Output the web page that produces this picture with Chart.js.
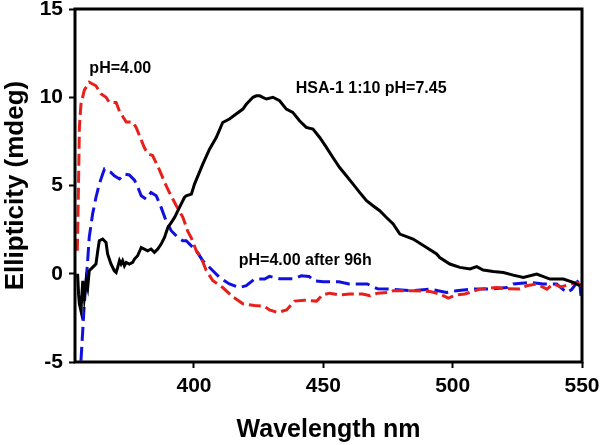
<!DOCTYPE html>
<html lang="en">
<head>
<meta charset="UTF-8">
<title>Ellipticity vs wavelength</title>
<script src="https://cdn.jsdelivr.net/npm/chart.js"></script>
<style>
  html, body { margin: 0; padding: 0; background: #fff; }
  #wrap { width: 600px; height: 445px; }
</style>
</head>
<body>
<div id="wrap"><canvas id="cdChart" width="600" height="445"></canvas></div>
<script>
// tick labels
const xTicks = [400, 450, 500, 550];
const yTicks = [-5, 0, 5, 10, 15];

// HSA-1 1:10 pH=7.45 (black, solid)
const blackWl = [355.0, 355.4, 355.7, 356.3, 357.0, 357.6, 358.3, 358.9, 359.5, 360.8, 362.1, 362.8, 363.4, 364.7, 366.0, 366.6, 367.9, 369.2, 369.9, 370.5, 371.2, 371.8, 372.4, 373.1, 373.8, 375.0, 376.3, 377.0, 378.2, 379.6, 380.8, 382.1, 383.4, 384.7, 386.0, 387.3, 388.6, 389.9, 391.2, 392.5, 394.4, 396.3, 397.0, 399.0, 400.2, 403.4, 406.0, 408.6, 411.1, 413.7, 416.3, 418.9, 420.2, 421.5, 422.8, 424.1, 425.4, 426.6, 428.0, 430.5, 433.1, 435.7, 438.2, 440.8, 443.4, 446.0, 448.6, 451.2, 453.7, 456.3, 458.9, 461.5, 464.1, 466.7, 469.2, 471.8, 474.4, 477.0, 479.6, 484.7, 489.9, 493.8, 495.0, 498.9, 502.8, 506.7, 509.3, 511.8, 515.7, 519.6, 523.4, 527.3, 532.5, 537.6, 542.8, 546.6, 549.2];
const blackVal = [0.0, -1.2, -1.72, -2.1, -0.4, -1.34, -0.4, -0.78, 0.17, 0.36, 0.55, 1.3, 1.87, 1.97, 1.77, 1.12, 0.55, 0.17, 0.07, 0.36, 0.74, 0.55, 0.74, 0.45, 0.64, 0.55, 0.64, 0.83, 1.02, 1.49, 1.4, 1.3, 1.4, 1.21, 1.4, 1.68, 2.06, 2.62, 2.9, 3.19, 3.76, 4.32, 4.42, 4.51, 5.08, 6.21, 7.06, 7.72, 8.57, 8.77, 9.05, 9.33, 9.6, 9.8, 10.0, 10.08, 10.08, 9.99, 9.9, 10.0, 9.8, 9.33, 9.14, 8.67, 8.29, 8.2, 7.72, 7.16, 6.59, 6.02, 5.55, 5.08, 4.6, 4.14, 3.85, 3.57, 3.19, 2.82, 2.25, 1.97, 1.49, 1.12, 0.92, 0.55, 0.36, 0.27, 0.4, 0.21, 0.13, 0.07, -0.08, -0.21, -0.02, -0.3, -0.3, -0.49, -0.68];

// pH=4.00 (red, dashed)
const redWl = [354.9, 355.3, 355.7, 356.3, 357.6, 359.5, 362.1, 364.0, 366.0, 367.3, 369.9, 371.2, 373.8, 376.3, 377.6, 380.8, 382.1, 384.0, 386.6, 388.6, 390.5, 393.0, 395.7, 397.6, 398.9, 400.9, 402.5, 404.7, 407.3, 411.1, 415.0, 418.9, 423.4, 427.3, 429.2, 432.3, 435.8, 438.9, 442.8, 447.4, 449.7, 452.5, 456.3, 460.2, 465.2, 468.0, 471.0, 475.7, 477.0, 484.7, 491.2, 495.0, 498.3, 501.5, 504.7, 510.5, 517.0, 521.0, 526.0, 528.6, 532.5, 536.4, 538.9, 542.0, 545.4, 548.0, 550.0];
const redVal = [1.3, 4.5, 8.3, 9.6, 10.4, 10.85, 10.65, 10.2, 10.0, 9.7, 9.7, 9.2, 8.6, 8.6, 8.3, 7.15, 6.8, 6.7, 5.9, 5.2, 4.6, 3.9, 3.2, 2.4, 2.05, 1.3, 1.0, 0.2, -0.4, -0.78, -1.3, -1.7, -1.8, -1.85, -2.05, -2.2, -2.05, -1.55, -1.5, -1.55, -1.2, -1.1, -1.2, -1.15, -1.15, -1.25, -1.1, -1.05, -0.96, -0.96, -1.0, -1.15, -1.38, -1.2, -1.15, -0.87, -0.78, -0.85, -0.87, -0.68, -0.58, -0.87, -0.58, -0.75, -0.58, -0.49, -0.7];

// pH=4.00 after 96h (blue, dashed)
const blueWl = [356.3, 357.0, 357.6, 358.3, 358.9, 359.5, 360.8, 362.1, 363.4, 364.7, 365.4, 366.6, 367.9, 369.2, 371.2, 373.1, 375.0, 377.0, 378.3, 379.6, 381.5, 383.4, 385.4, 387.3, 389.2, 391.2, 393.7, 395.7, 397.0, 400.9, 403.4, 407.3, 409.9, 413.7, 417.6, 420.2, 423.4, 427.3, 429.2, 433.0, 438.9, 441.5, 444.5, 446.5, 450.0, 456.0, 460.0, 467.0, 471.0, 475.7, 484.7, 491.2, 497.6, 501.5, 507.9, 514.4, 520.9, 523.4, 529.9, 535.0, 540.2, 544.1, 546.0, 549.0, 549.6];
const blueVal = [-4.93, -3.2, -1.7, -0.4, 0.74, 2.06, 3.38, 4.32, 5.08, 5.65, 5.93, 5.84, 5.74, 5.55, 5.37, 5.65, 5.6, 5.3, 4.9, 4.42, 4.23, 4.6, 4.42, 3.76, 3.0, 2.44, 2.06, 1.87, 1.87, 1.3, 0.74, 0.17, -0.21, -0.58, -0.78, -0.68, -0.3, -0.3, -0.15, -0.28, -0.28, -0.11, -0.15, -0.4, -0.45, -0.45, -0.58, -0.58, -0.85, -0.87, -0.96, -0.87, -1.06, -0.96, -0.87, -0.87, -0.78, -0.58, -0.49, -0.58, -0.58, -1.06, -0.9, -0.3, -1.25];

// text labels placed in data units
const notes = [
  { text: 'pH=4.00', x: 371.5, y: 11.6 },
  { text: 'HSA-1 1:10 pH=7.45', x: 468.5, y: 10.5 },
  { text: 'pH=4.00 after 96h', x: 443.0, y: 0.75 }
];

const FONT = "'Liberation Sans', Arial, sans-serif";

function pairs(xs, ys) {
  return xs.map((x, i) => ({ x: x, y: ys[i] }));
}

// frame round the plot area + the in-plot labels
const framePlugin = {
  id: 'frame',
  afterDatasetsDraw(chart) {
    const ctx = chart.ctx;
    const a = chart.chartArea;
    const xs = chart.scales.x, ys = chart.scales.y;
    ctx.save();
    ctx.fillStyle = '#000';
    ctx.font = 'bold 16px ' + FONT;
    ctx.textAlign = 'center';
    ctx.textBaseline = 'middle';
    notes.forEach(n => {
      ctx.fillText(n.text, xs.getPixelForValue(n.x), ys.getPixelForValue(n.y));
    });
    ctx.strokeStyle = '#000';
    ctx.lineWidth = 3;
    ctx.strokeRect(a.left, a.top, a.right - a.left, a.bottom - a.top);
    ctx.restore();
  }
};

const ctx = document.getElementById('cdChart').getContext('2d');
const chart = new Chart(ctx, {
  type: 'line',
  data: {
    datasets: [
      {
        label: 'HSA-1 1:10 pH=7.45',
        data: pairs(blackWl, blackVal),
        borderColor: '#000000',
        borderWidth: 3,
        order: 1
      },
      {
        label: 'pH=4.00',
        data: pairs(redWl, redVal),
        borderColor: '#e8201c',
        borderWidth: 3,
        borderDash: [12, 5],
        order: 2
      },
      {
        label: 'pH=4.00 after 96h',
        data: pairs(blueWl, blueVal),
        borderColor: '#1010e0',
        borderWidth: 3,
        borderDash: [14, 6],
        order: 3
      }
    ]
  },
  options: {
    responsive: false,
    animation: false,
    devicePixelRatio: 1,
    layout: { padding: { top: 9, right: 18, bottom: 0, left: 0 } },
    elements: {
      point: { radius: 0 },
      line: { tension: 0, fill: false }
    },
    plugins: {
      legend: { display: false },
      tooltip: { enabled: false }
    },
    scales: {
      x: {
        type: 'linear',
        min: 354,
        max: 550,
        afterBuildTicks: s => { s.ticks = xTicks.map(v => ({ value: v })); },
        afterFit: s => { s.height = 83; s.paddingLeft = 0; s.paddingRight = 0; },
        border: { display: false },
        grid: { drawOnChartArea: false, drawTicks: true, tickLength: 6, tickWidth: 2, tickColor: '#000' },
        ticks: { color: '#000', padding: 6, maxRotation: 0, font: { family: FONT, size: 21, weight: 'bold' } },
        title: { display: true, text: 'Wavelength nm', color: '#000', padding: { top: 0, bottom: 0 }, font: { family: FONT, size: 25, weight: 'bold' } }
      },
      y: {
        min: -5,
        max: 15,
        afterBuildTicks: s => { s.ticks = yTicks.map(v => ({ value: v })); },
        afterFit: s => { s.width = 75; s.paddingTop = 0; s.paddingBottom = 0; },
        border: { display: false },
        grid: { drawOnChartArea: false, drawTicks: true, tickLength: 6, tickWidth: 2, tickColor: '#000' },
        ticks: { color: '#000', padding: 6, font: { family: FONT, size: 21, weight: 'bold' } },
        title: { display: true, text: 'Ellipticity (mdeg)', color: '#000', padding: { top: 0, bottom: 0 }, font: { family: FONT, size: 26, weight: 'bold' } }
      }
    }
  },
  plugins: [framePlugin]
});
</script>
</body>
</html>
